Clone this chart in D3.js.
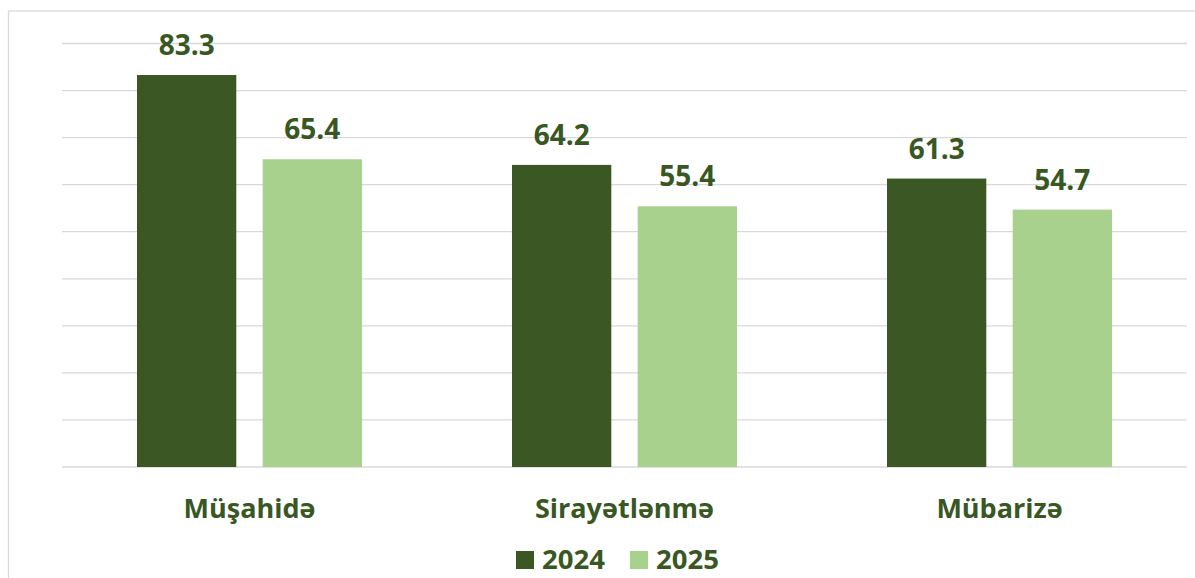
<!DOCTYPE html>
<html>
<head>
<meta charset="utf-8">
<script src="https://cdn.jsdelivr.net/npm/d3@7"></script>
<style>
  body { margin: 0; background: #fff; }
  text { font-family: "Open Sans", sans-serif; font-weight: bold; fill: #385723; }
</style>
</head>
<body>
<script>
// data
var categories = ["Müşahidə", "Sirayətlənmə", "Mübarizə"];
var years = ["2024", "2025"];
var values2024 = [83.3, 64.2, 61.3];
var values2025 = [65.4, 55.4, 54.7];
var gridTicks = [0, 10, 20, 30, 40, 50, 60, 70, 80, 90];
var colors = ["#3b5723", "#a9d18e"];

var W = 1195, H = 578;
var margin = { top: 43.5, left: 62, right: 8, bottom: 111 };

var svg = d3.select("body").append("svg").attr("width", W).attr("height", H);

// chart frame (cut off at right and bottom)
svg.append("rect")
  .attr("x", 8.5).attr("y", 11)
  .attr("width", 1200).attr("height", 600)
  .attr("fill", "none")
  .attr("stroke", "#d9d9d9")
  .attr("stroke-width", 1.3);

var x0 = d3.scaleBand().domain(categories)
  .range([margin.left, W - margin.right])
  .paddingInner(0.4).paddingOuter(0.2);
var x1 = d3.scaleBand().domain(years)
  .range([0, x0.bandwidth()])
  .paddingInner(0.21);
var y = d3.scaleLinear().domain([0, 90])
  .range([H - margin.bottom, margin.top]);

// gridlines
svg.append("g").selectAll("line")
  .data(gridTicks)
  .enter().append("line")
  .attr("x1", margin.left).attr("x2", W - margin.right)
  .attr("y1", d => y(d)).attr("y2", d => y(d))
  .attr("stroke", "#d9d9d9")
  .attr("stroke-width", 1.3);

var rows = categories.map((c, i) => ({ cat: c, vals: [values2024[i], values2025[i]] }));

var grp = svg.selectAll(".grp")
  .data(rows)
  .enter().append("g")
  .attr("class", "grp")
  .attr("transform", d => "translate(" + x0(d.cat) + ",0)");

var bars = grp.selectAll("g.bar")
  .data(d => d.vals.map((v, j) => ({ year: years[j], v: v, j: j })))
  .enter().append("g").attr("class", "bar");

bars.append("rect")
  .attr("x", d => x1(d.year))
  .attr("y", d => y(d.v))
  .attr("width", x1.bandwidth())
  .attr("height", d => y(0) - y(d.v))
  .attr("fill", d => colors[d.j]);

bars.append("text")
  .attr("x", d => x1(d.year) + x1.bandwidth() / 2)
  .attr("y", d => y(d.v) - 20)
  .attr("text-anchor", "middle")
  .style("font-size", "28px")
  .text(d => d.v.toFixed(1));

// category labels
svg.append("g").selectAll("text")
  .data(categories)
  .enter().append("text")
  .attr("x", d => x0(d) + x0.bandwidth() / 2)
  .attr("y", 518)
  .attr("text-anchor", "middle")
  .style("font-size", "27px")
  .text(d => d);

// legend
var legX = [516, 630];
var leg = svg.append("g").selectAll("g")
  .data(years)
  .enter().append("g")
  .attr("transform", (d, i) => "translate(" + legX[i] + ",551)");
leg.append("rect")
  .attr("width", 18).attr("height", 18)
  .attr("fill", (d, i) => colors[i]);
leg.append("text")
  .attr("x", 26).attr("y", 17.5)
  .style("font-size", "27.5px")
  .text(d => d);
</script>
</body>
</html>
